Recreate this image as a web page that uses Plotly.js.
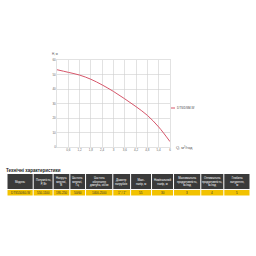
<!DOCTYPE html>
<html><head><meta charset="utf-8">
<script src="https://cdn.plot.ly/plotly-3.0.1.min.js"></script>
<style>html,body{margin:0;padding:0;background:#fff}#c{width:256px;height:256px}</style>
</head><body><div id="c"></div>
<script>
const seriesName = "DTS/DSM-W";
const flowQ = [0, 0.6, 1.2, 1.8, 2.4, 3.0, 3.6, 4.2, 4.8, 5.4, 6.0];
const headH = [53.3, 51.5, 49.6, 46.7, 42.8, 38.3, 33.2, 27.8, 21.8, 13.8, 3.7];
const xTickVals = [0.6, 1.2, 1.8, 2.4, 3, 3.6, 4.2, 4.8, 5.4, 6];
const yTickVals = [0, 10, 20, 30, 40, 50, 60];
const tableTitle = "Технічні характеристики";
const tableHeaders = ["Модель", "Потужність,<br>Р, Вт", "Напруга<br>мережі,<br>В", "Частота<br>мережі,<br>Гц", "Частота<br>обертання<br>двигуна, об/хв", "Діаметр<br>патрубків", "Макс.<br>напір, м", "Номінальний<br>напір, м", "Максимальна<br>продуктивність,<br>м³/год", "Оптимальна<br>продуктивність,<br>м³/год", "Глибина<br>занурення,<br>м"];
const tableValues = ["DTS550/60-W", "550-1100", "195-250", "50/60", "1400-2500", "1\" / 1\"", "55", "30", "3", "4", "5"];
const colWidths = [25, 19, 16, 15, 26, 17, 20, 21, 26, 22, 25];

const W = 256, H = 256;
const px = v => v / W, py = v => 1 - v / H;

const curve = {
  type: "scatter", mode: "lines", x: flowQ, y: headH, name: seriesName,
  line: {color: "#d6566a", width: 1, shape: "spline"}, hoverinfo: "none",
  xaxis: "x", yaxis: "y", showlegend: false
};

// table drawn from arrays
const tLeft = 7, tRight = 250, hTop = 174, hBot = 189, rTop = 190, rBot = 195.5;
const totalW = colWidths.reduce((a, b) => a + b, 0);
const shapes = [
  {type: "line", xref: "paper", yref: "paper", x0: px(171), x1: px(175), y0: py(108), y1: py(108),
   line: {color: "#d6566a", width: 1}}
];
const annotations = [
  {text: "H, м", xref: "paper", yref: "paper", x: px(50), y: py(54), showarrow: false,
   xanchor: "left", yanchor: "middle", font: {size: 3, color: "#555", family: "Arial"}},
  {text: "Q, м³/год", xref: "paper", yref: "paper", x: px(174), y: py(147), showarrow: false,
   xanchor: "left", yanchor: "middle", font: {size: 4, color: "#555", family: "Arial"}},
  {text: seriesName, xref: "paper", yref: "paper", x: px(175), y: py(108), showarrow: false,
   xanchor: "left", yanchor: "middle", font: {size: 3, color: "#444", family: "Arial"}},
  {text: "<b>" + tableTitle + "</b>", xref: "paper", yref: "paper", x: px(4), y: py(170), showarrow: false,
   xanchor: "left", yanchor: "middle", font: {size: 4.5, color: "#222", family: "Arial"}}
];
let cx = tLeft;
colWidths.forEach((w, i) => {
  const cw = w / totalW * (tRight - tLeft);
  const x0 = cx + 0.5, x1 = cx + cw - 0.5;
  shapes.push({type: "rect", xref: "paper", yref: "paper", x0: px(x0), x1: px(x1), y0: py(hBot), y1: py(hTop),
               fillcolor: "#3a3a3a", line: {width: 0}});
  shapes.push({type: "rect", xref: "paper", yref: "paper", x0: px(x0), x1: px(x1), y0: py(rBot), y1: py(rTop),
               fillcolor: "#f2c200", line: {width: 0}});
  annotations.push({text: tableHeaders[i], xref: "paper", yref: "paper", x: px((x0 + x1) / 2), y: py((hTop + hBot) / 2),
                    showarrow: false, xanchor: "center", yanchor: "middle", align: "center",
                    font: {size: 2.8, color: "#ffffff", family: "Arial"}});
  annotations.push({text: tableValues[i], xref: "paper", yref: "paper", x: px((x0 + x1) / 2), y: py((rTop + rBot) / 2),
                    showarrow: false, xanchor: "center", yanchor: "middle",
                    font: {size: 3, color: "#333333", family: "Arial"}});
  cx += cw;
});

const layout = {
  width: W, height: H, margin: {l: 0, r: 0, t: 0, b: 0},
  paper_bgcolor: "#ffffff", plot_bgcolor: "#ffffff", separators: ", ",
  showlegend: false,
  xaxis: {domain: [px(57), px(170)], range: [0, 6], tickvals: xTickVals, showgrid: true,
          gridcolor: "#cfcfcf", gridwidth: 0.6, zeroline: false, showline: true, linecolor: "#cfcfcf", linewidth: 0.6,
          mirror: true, tickfont: {size: 3, color: "#666", family: "Arial"}, ticks: "", ticklen: 0},
  yaxis: {domain: [py(147), py(60)], range: [0, 60], tickvals: yTickVals, showgrid: true,
          gridcolor: "#cfcfcf", gridwidth: 0.6, zeroline: false, showline: true, linecolor: "#cfcfcf", linewidth: 0.6,
          mirror: true, tickfont: {size: 3, color: "#666", family: "Arial"}, ticks: "", ticklen: 0},
  annotations: annotations,
  shapes: shapes
};
Plotly.newPlot("c", [curve], layout, {staticPlot: true, displayModeBar: false});
</script></body></html>
